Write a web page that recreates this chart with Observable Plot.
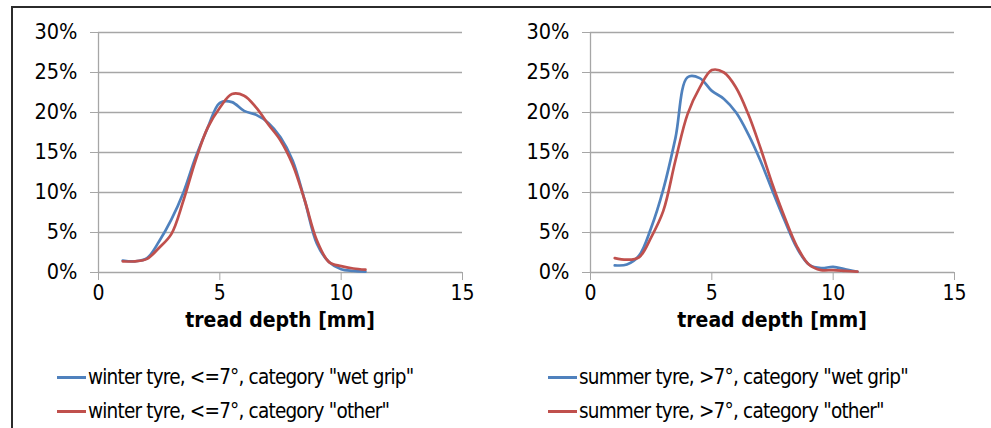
<!DOCTYPE html>
<html><head><meta charset="utf-8">
<script src="https://cdn.jsdelivr.net/npm/d3@7"></script>
<script src="https://cdn.jsdelivr.net/npm/@observablehq/plot@0.6"></script>
<style>
body{margin:0;background:#fff;}
#root{position:relative;width:991px;height:428px;overflow:hidden;background:#fff;font-family:"DejaVu Sans Condensed","Liberation Sans",sans-serif;color:#000;}
#frame{position:absolute;left:11px;top:6px;width:990px;height:430px;border-top:2px solid #2b2b2b;border-left:2px solid #2b2b2b;}
.panel{position:absolute;top:0;}
.xlabel{position:absolute;top:308px;font-weight:bold;font-size:21px;text-align:center;white-space:nowrap;}
.row{position:absolute;display:flex;align-items:center;white-space:nowrap;height:24px;font-size:20.5px;letter-spacing:-0.8px;}
.sw{width:29px;height:3px;margin-right:2px;flex:none;}
</style></head>
<body><div id="root"><div id="frame"></div></div>
<script>
const depth = [1,1.5,2,2.5,3,3.5,4,4.5,5,5.5,6,6.5,7,7.5,8,8.5,9,9.5,10,10.5,11];
const winterWetGrip = [1.5,1.4,1.8,3.9,6.6,10.0,14.4,18.1,21.2,21.3,20.2,19.7,18.7,16.9,14.0,9.0,3.6,1.3,0.4,0.2,0.1];
const winterOther   = [1.4,1.4,1.7,3.1,4.8,9.0,14.0,18.1,20.6,22.3,22.1,20.6,18.5,16.5,13.5,9.0,4.0,1.3,0.8,0.5,0.35];
const summerWetGrip = [0.9,1.0,2.1,5.6,10.4,16.8,24.4,24.3,22.7,21.7,20.0,17.3,14.0,10.2,6.5,3.1,1.0,0.55,0.7,0.4,0.1];
const summerOther   = [1.8,1.6,1.9,4.4,7.7,14.0,19.8,23.1,25.3,25.0,23.1,19.8,15.6,11.0,6.9,3.3,1.0,0.3,0.3,0.2,0.1];
const xTicks = [0,5,10,15];
const yTicks = [0,5,10,15,20,25,30];
const xLabel = "tread depth [mm]";
const legendWinter = ['winter tyre, <=7°, category "wet grip"', 'winter tyre, <=7°, category "other"'];
const legendSummer = ['summer tyre, >7°, category "wet grip"', 'summer tyre, >7°, category "other"'];
const colors = ["#4F81BD", "#C0504D"];

const FONT = '"DejaVu Sans Condensed","Liberation Sans",sans-serif';
const GRID = "#a6a6a6";

function makePanel(blue, red) {
  const b = depth.map((d, i) => ({depth: d, value: blue[i]}));
  const r = depth.map((d, i) => ({depth: d, value: red[i]}));
  return Plot.plot({
    width: 495, height: 342,
    marginLeft: 98, marginRight: 33, marginTop: 32, marginBottom: 70,
    style: {fontFamily: FONT, fontSize: "21px", color: "#000", background: "transparent", overflow: "visible"},
    x: {domain: [0, 15]},
    y: {domain: [0, 30]},
    marks: [
      Plot.gridY(yTicks, {stroke: GRID, strokeOpacity: 1, strokeWidth: 1.3}),
      Plot.ruleX([0], {stroke: GRID, strokeWidth: 1.3}),
      Plot.axisY({ticks: yTicks, tickSize: 8, tickPadding: 13, stroke: GRID, fill: "#000", tickFormat: d => d + "%", label: null, fontSize: 21.5}),
      Plot.axisX({ticks: xTicks, tickSize: 8, tickPadding: 5, stroke: GRID, fill: "#000", label: null, fontSize: 21}),
      Plot.line(b, {x: "depth", y: "value", stroke: colors[0], strokeWidth: 2.7, curve: "catmull-rom"}),
      Plot.line(r, {x: "depth", y: "value", stroke: colors[1], strokeWidth: 2.7, curve: "catmull-rom"})
    ]
  });
}

const root = document.getElementById("root");
function addPanel(left, blue, red, legend, legendLeft) {
  const div = document.createElement("div");
  div.className = "panel";
  div.style.left = left + "px";
  div.appendChild(makePanel(blue, red));
  root.appendChild(div);
  const lab = document.createElement("div");
  lab.className = "xlabel";
  lab.style.left = (left + 98) + "px";
  lab.style.width = "364px";
  lab.textContent = xLabel;
  root.appendChild(lab);
  legend.forEach((t, i) => {
    const row = document.createElement("div");
    row.className = "row";
    row.style.left = legendLeft + "px";
    row.style.top = (365 + i * 34) + "px";
    const sw = document.createElement("span");
    sw.className = "sw";
    sw.style.background = colors[i];
    const tx = document.createElement("span");
    tx.textContent = t;
    row.appendChild(sw);
    row.appendChild(tx);
    root.appendChild(row);
  });
}
addPanel(0, winterWetGrip, winterOther, legendWinter, 57);
addPanel(492, summerWetGrip, summerOther, legendSummer, 548);
</script>
</body></html>
